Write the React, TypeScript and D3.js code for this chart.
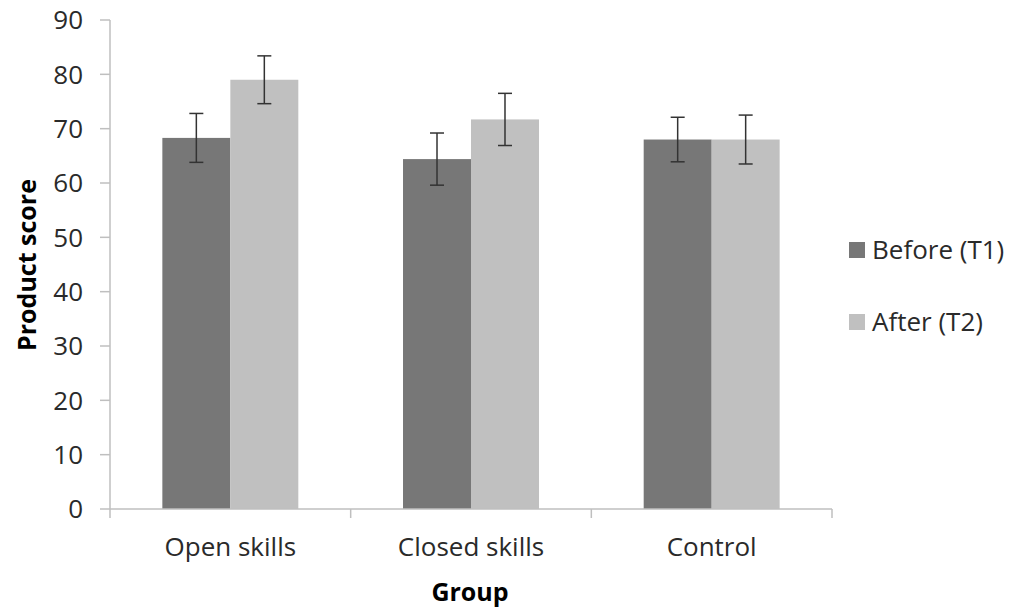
import React from "react";
import * as d3 from "d3";

const groups = ["Open skills", "Closed skills", "Control"];
const seriesNames = ["Before (T1)", "After (T2)"];
const beforeMeans = [68.3, 64.4, 68.0];
const beforeErr = [4.5, 4.8, 4.1];
const afterMeans = [79.0, 71.7, 68.0];
const afterErr = [4.4, 4.8, 4.5];
const yTicks = [0, 10, 20, 30, 40, 50, 60, 70, 80, 90];
const colors = ["#777777", "#c0c0c0"];

const W = 1025, H = 611;
const left = 110, right = 832, top = 20, bottom = 509;
const FONT = "'Open Sans', sans-serif";

export default function App() {
  const x0 = d3.scaleBand<string>().domain(groups).range([left, right]).padding(0);
  const x1 = d3.scaleBand<string>().domain(seriesNames).range([0, x0.bandwidth()]).paddingInner(0).paddingOuter(0.77);
  const y = d3.scaleLinear().domain([0, 90]).range([bottom, top]);
  const series = [
    { name: seriesNames[0], means: beforeMeans, errs: beforeErr, color: colors[0] },
    { name: seriesNames[1], means: afterMeans, errs: afterErr, color: colors[1] },
  ];
  const boundaries = [left, ...groups.map((g) => (x0(g) as number) + x0.bandwidth())];
  return (
    <svg width={W} height={H} style={{ position: "absolute", left: 0, top: 0, background: "#fff" }}>
      <rect x={0} y={0} width={W} height={H} fill="#fff" />
      {/* y axis */}
      <line x1={left} x2={left} y1={top} y2={bottom} stroke="#bfbfbf" strokeWidth={1.5} />
      {yTicks.map((t) => (
        <g key={t}>
          <line x1={left - 10} x2={left} y1={y(t)} y2={y(t)} stroke="#bfbfbf" strokeWidth={1.5} />
          <text x={83} y={y(t)} dy="0.36em" textAnchor="end" fontFamily={FONT} fontSize={26} fill="#2a2a2a">{t}</text>
        </g>
      ))}
      {/* bars */}
      {series.map((s) =>
        groups.map((g, i) => {
          const bx = (x0(g) as number) + (x1(s.name) as number);
          return (
            <rect key={s.name + g} x={bx} y={y(s.means[i])} width={x1.bandwidth()} height={bottom - y(s.means[i])} fill={s.color} />
          );
        })
      )}
      {/* error bars */}
      {series.map((s) =>
        groups.map((g, i) => {
          const cx = (x0(g) as number) + (x1(s.name) as number) + x1.bandwidth() / 2;
          const hi = y(s.means[i] + s.errs[i]);
          const lo = y(s.means[i] - s.errs[i]);
          return (
            <g key={"e" + s.name + g} stroke="#333" strokeWidth={1.5}>
              <line x1={cx} x2={cx} y1={hi} y2={lo} />
              <line x1={cx - 7} x2={cx + 7} y1={hi} y2={hi} />
              <line x1={cx - 7} x2={cx + 7} y1={lo} y2={lo} />
            </g>
          );
        })
      )}
      {/* x axis */}
      <line x1={left} x2={right} y1={bottom} y2={bottom} stroke="#bfbfbf" strokeWidth={1.5} />
      {boundaries.map((b, i) => (
        <line key={i} x1={b} x2={b} y1={bottom} y2={bottom + 9} stroke="#bfbfbf" strokeWidth={1.5} />
      ))}
      {groups.map((g) => (
        <text key={g} x={(x0(g) as number) + x0.bandwidth() / 2} y={547} dy="0.36em" textAnchor="middle" fontFamily={FONT} fontSize={26} fill="#2a2a2a">{g}</text>
      ))}
      <text x={470} y={592} dy="0.36em" textAnchor="middle" fontFamily={FONT} fontSize={25} fontWeight="bold" fill="#000">Group</text>
      <text transform={`translate(27,265) rotate(-90)`} dy="0.36em" textAnchor="middle" fontFamily={FONT} fontSize={25} fontWeight="bold" fill="#000">Product score</text>
      {/* legend */}
      {series.map((s, i) => {
        const ly = 250 + i * 72;
        return (
          <g key={"l" + s.name}>
            <rect x={849} y={ly - 8} width={16} height={16} fill={s.color} />
            <text x={872} y={ly} dy="0.36em" fontFamily={FONT} fontSize={26} fill="#2a2a2a">{s.name}</text>
          </g>
        );
      })}
    </svg>
  );
}
